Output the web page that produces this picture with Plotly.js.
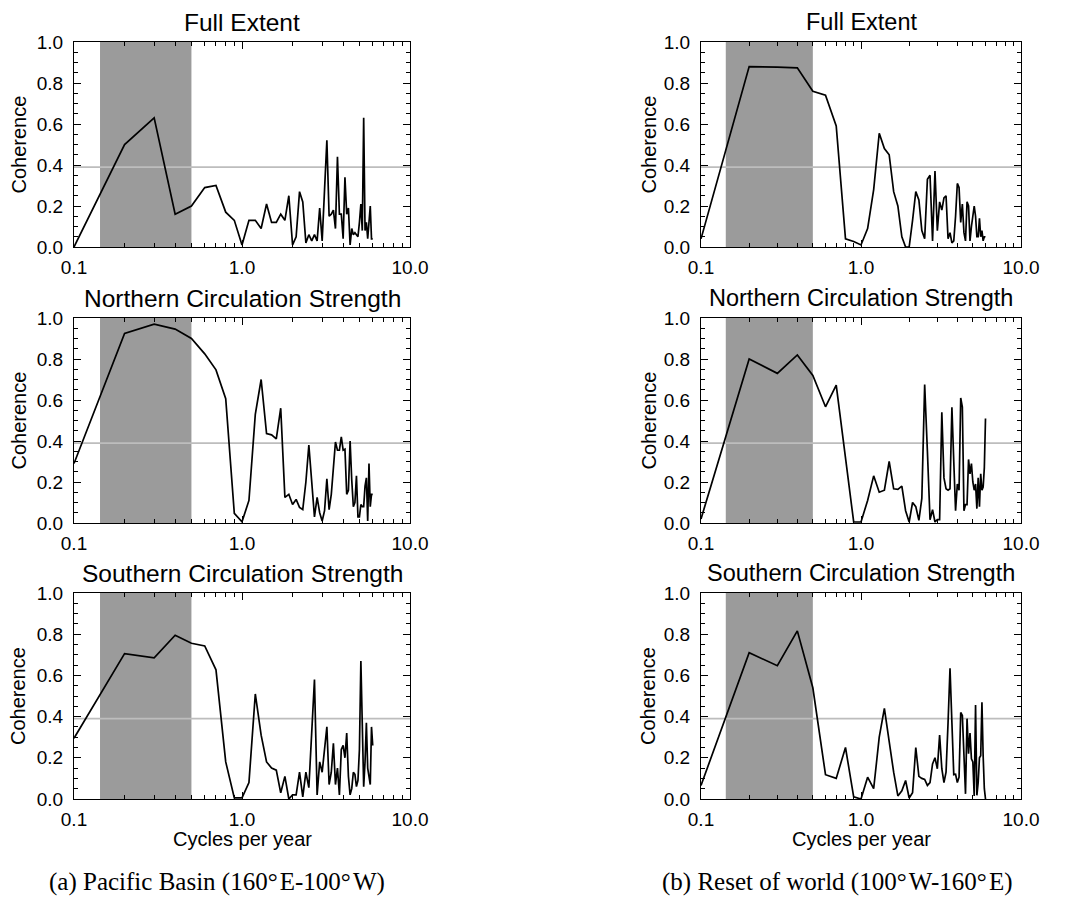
<!DOCTYPE html>
<html>
<head>
<meta charset="utf-8">
<script src="https://cdn.plot.ly/plotly-3.0.1.min.js"></script>
<style>html,body{margin:0;padding:0;background:#fff;}#chart{width:1070px;height:898px;}</style>
</head>
<body>
<div id="chart"></div>
<script>
// ---- data ----
const freq = [0.1,0.2,0.3,0.4,0.5,0.6,0.7,0.8,0.9,1.0,
              1.1,1.2,1.3,1.4,1.5,1.6,1.7,1.8,1.9,2.0,
              2.1,2.2,2.3,2.4,2.5,2.6,2.7,2.8,2.9,3.0,
              3.1,3.2,3.3,3.4,3.5,3.6,3.7,3.8,3.9,4.0,
              4.1,4.2,4.3,4.4,4.5,4.6,4.7,4.8,4.9,5.0,
              5.1,5.2,5.3,5.4,5.5,5.6,5.7,5.8,5.9,6.0];

const pacificFull = [0.00,0.50,0.63,0.16,0.20,0.29,0.30,0.17,0.13,0.01,
                     0.13,0.13,0.09,0.21,0.12,0.12,0.16,0.13,0.25,0.01,
                     0.05,0.27,0.22,0.02,0.06,0.03,0.06,0.03,0.19,0.03,
                     0.28,0.52,0.15,0.16,0.18,0.09,0.44,0.16,0.16,0.04,
                     0.34,0.16,0.19,0.01,0.09,0.06,0.07,0.06,0.05,0.12,
                     0.21,0.08,0.63,0.08,0.12,0.04,0.12,0.20,0.04,0.04];

const pacificNorth = [0.29,0.925,0.97,0.946,0.90,0.825,0.747,0.606,0.047,0.006,
                      0.11,0.53,0.70,0.436,0.43,0.41,0.56,0.125,0.14,0.09,
                      0.115,0.076,0.066,0.20,0.38,0.20,0.03,0.125,0.05,0.01,
                      0.06,0.215,0.065,0.14,0.26,0.395,0.355,0.355,0.42,0.355,
                      0.36,0.14,0.16,0.40,0.21,0.08,0.10,0.23,0.03,0.03,
                      0.09,0.08,0.08,0.18,0.22,0.01,0.29,0.08,0.14,0.14];

const pacificSouth = [0.295,0.706,0.685,0.795,0.756,0.743,0.627,0.18,0.005,0.005,
                      0.08,0.51,0.31,0.18,0.15,0.14,0.03,0.11,0.00,0.02,
                      0.02,0.13,0.01,0.13,0.055,0.35,0.58,0.02,0.18,0.13,
                      0.24,0.35,0.07,0.13,0.27,0.07,0.15,0.02,0.24,0.26,
                      0.20,0.32,0.11,0.02,0.05,0.13,0.12,0.06,0.09,0.24,
                      0.67,0.28,0.06,0.18,0.37,0.15,0.11,0.07,0.35,0.26];

const restFull = [0.04,0.88,0.877,0.874,0.76,0.74,0.59,0.04,0.027,0.01,
                  0.09,0.28,0.555,0.48,0.45,0.27,0.20,0.05,0.00,0.00,
                  0.13,0.27,0.23,0.08,0.04,0.33,0.35,0.03,0.37,0.08,
                  0.22,0.18,0.24,0.25,0.04,0.07,0.02,0.03,0.15,0.31,
                  0.29,0.12,0.21,0.07,0.03,0.22,0.20,0.03,0.10,0.14,
                  0.20,0.15,0.05,0.05,0.14,0.05,0.08,0.03,0.05,0.05];

const restNorth = [0.02,0.80,0.73,0.82,0.72,0.567,0.673,0.31,0.005,0.005,
                   0.11,0.23,0.15,0.16,0.30,0.167,0.164,0.18,0.06,0.005,
                   0.10,0.08,0.013,0.12,0.675,0.35,0.016,0.065,0.005,0.016,
                   0.016,0.54,0.22,0.167,0.16,0.167,0.565,0.30,0.06,0.19,
                   0.16,0.61,0.565,0.06,0.09,0.09,0.31,0.24,0.29,0.20,
                   0.16,0.19,0.07,0.22,0.08,0.24,0.16,0.175,0.27,0.51];

const restSouth = [0.066,0.71,0.647,0.816,0.54,0.118,0.10,0.25,0.01,0.00,
                   0.106,0.05,0.30,0.44,0.28,0.13,0.015,0.04,0.09,0.005,
                   0.03,0.25,0.11,0.10,0.095,0.066,0.08,0.17,0.20,0.147,
                   0.31,0.147,0.08,0.13,0.37,0.635,0.37,0.118,0.12,0.08,
                   0.106,0.42,0.405,0.23,0.025,0.39,0.22,0.32,0.195,0.18,
                   0.015,0.456,0.018,0.08,0.20,0.21,0.47,0.21,0.05,0.00];

const panelTitles = ["Full Extent","Northern Circulation Strength","Southern Circulation Strength"];
const captions = ["(a) Pacific Basin (160°\u200AE-100°\u200AW)", "(b) Reset of world (100°\u200AW-160°\u200AE)"];
const yTitle = "Coherence";
const xTitle = "Cycles per year";

const xTickVals = [0.1, 1, 10];
const xTickText = ["0.1", "1.0", "10.0"];
const xMinorVals = [0.2,0.3,0.4,0.5,0.6,0.7,0.8,0.9,2,3,4,5,6,7,8,9];
const yTickVals = [0.0, 0.2, 0.4, 0.6, 0.8, 1.0];
const yTickText = ["0.0", "0.2", "0.4", "0.6", "0.8", "1.0"];
const xRange = [0.1, 10];
const yRange = [0.0, 1.0];
const bandLow = 1/7;      // shaded band (periods 2-7 years)
const bandHigh = 0.5;
const significance = 0.39;

// ---- layout geometry (pixels) ----
const W = 1070, H = 898;
const cols = [{l:74, r:410, title:24.5, cohX:18, cap:217}, {l:701, r:1021, title:23.5, cohX:648, cap:837}];
const rows = [{t:42, b:247}, {t:318, b:523}, {t:593, b:799}];
const series = [[pacificFull, pacificNorth, pacificSouth],[restFull, restNorth, restSouth]];

const FONT = "Liberation Sans, Arial, Helvetica, sans-serif";
const SERIF = "Liberation Serif, Times New Roman, serif";

const px = x => x / W;
const py = y => 1 - y / H;

const traces = [];
const layout = {
  width: W, height: H,
  margin: {l:0, r:0, t:0, b:0},
  paper_bgcolor: "#fff", plot_bgcolor: "#fff",
  showlegend: false,
  shapes: [], annotations: []
};

let k = 0;
for (let c = 0; c < 2; c++) {
  for (let r = 0; r < 3; r++) {
    k++;
    const xa = "xaxis" + (k === 1 ? "" : k);
    const ya = "yaxis" + (k === 1 ? "" : k);
    const xr = "x" + (k === 1 ? "" : k);
    const yr = "y" + (k === 1 ? "" : k);
    const col = cols[c], row = rows[r];
    layout[xa] = {
      type: "log", domain: [px(col.l), px(col.r)], anchor: yr,
      range: [Math.log10(xRange[0]), Math.log10(xRange[1])],
      tickmode: "array", tickvals: xTickVals, ticktext: xTickText,
      ticks: "inside", ticklen: 7, tickwidth: 1, tickcolor: "#000",
      showline: true, linecolor: "#000", linewidth: 1, mirror: "ticks",
      showgrid: false, zeroline: false, fixedrange: true,
      minor: {tickmode: "array", tickvals: xMinorVals, ticks: "inside", ticklen: 4, tickcolor: "#000", tickwidth: 1, showgrid: false},
      tickfont: {family: FONT, size: 19, color: "#000"},
      ticklabelstandoff: 3
    };
    layout[ya] = {
      domain: [py(row.b), py(row.t)], anchor: xr,
      range: yRange,
      tickmode: "array", tickvals: yTickVals, ticktext: yTickText,
      ticks: "inside", ticklen: 7, tickwidth: 1, tickcolor: "#000",
      showline: true, linecolor: "#000", linewidth: 1, mirror: "ticks",
      showgrid: false, zeroline: false, fixedrange: true,
      minor: {dtick: 0.05, tick0: 0, ticks: "inside", ticklen: 4, tickcolor: "#000", tickwidth: 1, showgrid: false},
      tickfont: {family: FONT, size: 19, color: "#000"},
      ticklabelstandoff: 6
    };
    // shaded band
    layout.shapes.push({type: "rect", layer: "below", xref: xr, yref: yr + " domain",
      x0: bandLow, x1: bandHigh, y0: 0, y1: 1, fillcolor: "#9b9b9b", line: {width: 0}});
    // significance line
    layout.shapes.push({type: "line", layer: "below", xref: xr + " domain", yref: yr,
      x0: 0, x1: 1, y0: significance, y1: significance, line: {color: "#bdbdbd", width: 1.8}});

    traces.push({x: freq, y: series[c][r], xaxis: xr, yaxis: yr, type: "scatter", mode: "lines",
      line: {color: "#000", width: 1.7}, hoverinfo: "skip"});

    // panel title
    layout.annotations.push({text: panelTitles[r], xref: "paper", yref: "paper",
      x: px((col.l + col.r) / 2), y: py(row.t - 20), xanchor: "center", yanchor: "middle",
      showarrow: false, font: {family: FONT, size: col.title, color: "#000"}});
    // y title
    layout.annotations.push({text: yTitle, xref: "paper", yref: "paper", textangle: -90,
      x: px(col.cohX), y: py((row.t + row.b) / 2), xanchor: "center", yanchor: "middle",
      showarrow: false, font: {family: FONT, size: 20, color: "#000"}});
    if (r === 2) {
      layout.annotations.push({text: xTitle, xref: "paper", yref: "paper",
        x: px((col.l + col.r) / 2), y: py(839), xanchor: "center", yanchor: "middle",
        showarrow: false, font: {family: FONT, size: 20, color: "#000"}});
    }
  }
  layout.annotations.push({text: captions[c], xref: "paper", yref: "paper",
    x: px(cols[c].cap), y: py(882), xanchor: "center", yanchor: "middle", borderpad: 0,
    showarrow: false, font: {family: SERIF, size: 25, color: "#000"}});
}

Plotly.newPlot("chart", traces, layout, {staticPlot: true, displayModeBar: false});
</script>
</body>
</html>
